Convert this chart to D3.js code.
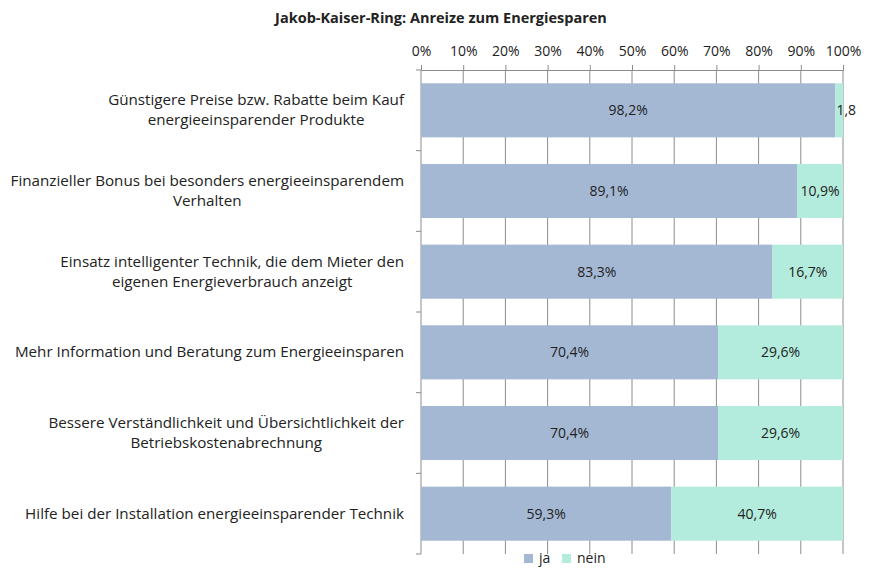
<!DOCTYPE html>
<html>
<head>
<meta charset="utf-8">
<script src="https://cdn.jsdelivr.net/npm/d3@7"></script>
<style>
  body { margin: 0; background: #fff; }
  text { font-family: "Open Sans", "Liberation Sans", Arial, sans-serif; fill: #222; }
</style>
</head>
<body>
<div id="chart"></div>
<script>
var categories = [
  ["Günstigere Preise bzw. Rabatte beim Kauf", "energieeinsparender Produkte"],
  ["Finanzieller Bonus bei besonders energieeinsparendem", "Verhalten"],
  ["Einsatz intelligenter Technik, die dem Mieter den", "eigenen Energieverbrauch anzeigt"],
  ["Mehr Information und Beratung zum Energieeinsparen"],
  ["Bessere Verständlichkeit und Übersichtlichkeit der", "Betriebskostenabrechnung"],
  ["Hilfe bei der Installation energieeinsparender Technik"]
]
var ja = [98.2, 89.1, 83.3, 70.4, 70.4, 59.3]
var nein = [1.8, 10.9, 16.7, 29.6, 29.6, 40.7]
var ticks = [0, 10, 20, 30, 40, 50, 60, 70, 80, 90, 100]
var seriesNames = ["ja", "nein"]
var colors = ["#a4b8d4", "#b3ecdc"]

var W = 871, H = 573
var margin = {top: 70, left: 421, right: 28, bottom: 19}
var width = W - margin.left - margin.right,
    height = H - margin.top - margin.bottom

var svg = d3.select("#chart").append("svg")
    .attr("width", W).attr("height", H)

svg.append("defs").append("clipPath").attr("id", "clip")
  .append("rect").attr("x", 0).attr("y", 0).attr("width", 856).attr("height", H)

svg.append("text")
    .attr("x", 441).attr("y", 23)
    .attr("text-anchor", "middle")
    .style("font-weight", "bold")
    .style("font-size", "14.5px")
    .text("Jakob-Kaiser-Ring: Anreize zum Energiesparen")

var g = svg.append("g")
    .attr("transform", "translate(" + margin.left + "," + margin.top + ")")

var x = d3.scaleLinear().domain([0, 100]).range([0, width])
var y = d3.scaleBand()
    .domain(d3.range(categories.length))
    .range([0, height])
    .paddingInner(0.33).paddingOuter(0.165)

// gridlines
g.selectAll(".grid")
  .data(ticks.slice(1))
  .enter().append("line")
    .attr("x1", function(d) { return x(d) }).attr("x2", function(d) { return x(d) })
    .attr("y1", 0).attr("y2", height)
    .attr("stroke", "#8c8c8c").attr("stroke-width", 1)

// top axis
var xAxis = g.append("g")
    .call(d3.axisTop(x).tickValues(ticks).tickSize(5).tickPadding(9)
      .tickFormat(function(d) { return d + "%" }))
xAxis.select(".domain").attr("stroke", "#8c8c8c")
xAxis.selectAll(".tick line").attr("stroke", "#8c8c8c")
xAxis.selectAll("text").style("font-size", "14px").attr("fill", "#222")
  .style("font-family", "'Open Sans', 'Liberation Sans', Arial, sans-serif")

// left axis line with ticks at band boundaries
var step = height / categories.length
g.append("line")
    .attr("x1", 0).attr("x2", 0).attr("y1", 0).attr("y2", height)
    .attr("stroke", "#8c8c8c")
g.selectAll(".ytick")
  .data(d3.range(categories.length + 1))
  .enter().append("line")
    .attr("x1", -5).attr("x2", 0)
    .attr("y1", function(i) { return i * step }).attr("y2", function(i) { return i * step })
    .attr("stroke", "#8c8c8c")

// bars
var rows = categories.map(function(c, i) { return {i: i, ja: ja[i], nein: nein[i]} })
var bars = g.selectAll(".row").data(rows).enter().append("g")

bars.append("rect")
    .attr("x", x(0))
    .attr("y", function(d) { return y(d.i) })
    .attr("width", function(d) { return x(d.ja) - x(0) })
    .attr("height", y.bandwidth())
    .attr("fill", colors[0])
bars.append("rect")
    .attr("x", function(d) { return x(d.ja) })
    .attr("y", function(d) { return y(d.i) })
    .attr("width", function(d) { return x(d.ja + d.nein) - x(d.ja) })
    .attr("height", y.bandwidth())
    .attr("fill", colors[1])

function fmt(v) { return v.toFixed(1).replace(".", ",") + "%" }

bars.append("text")
    .attr("x", function(d) { return x(d.ja / 2) })
    .attr("y", function(d) { return y(d.i) + y.bandwidth() / 2 + 5 })
    .attr("text-anchor", "middle")
    .style("font-size", "14px")
    .text(function(d) { return fmt(d.ja) })

// small segment labels spill over the bar end and get cut at the chart edge
var neinLabels = svg.append("g").attr("clip-path", "url(#clip)")
  .append("g").attr("transform", "translate(" + margin.left + "," + margin.top + ")")
neinLabels.selectAll("text").data(rows).enter().append("text")
    .attr("x", function(d) { return d.nein < 5 ? x(d.ja) + 1 : x(d.ja + d.nein / 2) })
    .attr("y", function(d) { return y(d.i) + y.bandwidth() / 2 + 5 })
    .attr("text-anchor", function(d) { return d.nein < 5 ? "start" : "middle" })
    .style("font-size", "14px")
    .text(function(d) { return fmt(d.nein) })

// category labels: lines centered within a block right-aligned to the axis
var labels = svg.append("g")
categories.forEach(function(lines, i) {
  var t = labels.append("text")
      .style("font-size", "15.2px")
      .attr("text-anchor", "middle")
  var cy = margin.top + y(i) + y.bandwidth() / 2
  var lh = 20
  var y0 = cy - (lines.length - 1) * lh / 2 + 5
  lines.forEach(function(line, k) {
    t.append("tspan").attr("x", 0).attr("y", y0 + k * lh).text(line)
  })
  var maxW = d3.max(t.selectAll("tspan").nodes(), function(n) { return n.getComputedTextLength() })
  t.selectAll("tspan").attr("x", 404 - maxW / 2)
})

// legend
var legend = svg.append("g").attr("transform", "translate(524," + (H - 10) + ")")
var lx = [0, 38]
seriesNames.forEach(function(s, i) {
  legend.append("rect")
      .attr("x", lx[i]).attr("y", -9).attr("width", 9).attr("height", 9)
      .attr("fill", colors[i])
  legend.append("text")
      .attr("x", lx[i] + 15).attr("y", 0)
      .style("font-size", "14px")
      .text(s)
})
</script>
</body>
</html>
